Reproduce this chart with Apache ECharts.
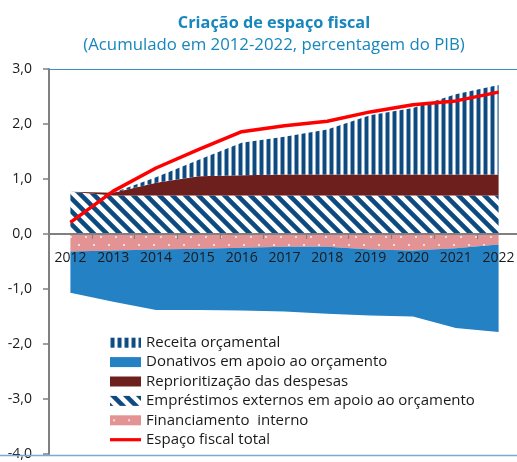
<!DOCTYPE html>
<html>
<head>
<meta charset="utf-8">
<script src="https://cdn.jsdelivr.net/npm/echarts@6/dist/echarts.min.js"></script>
<style>html,body{margin:0;padding:0;background:#fff;}#c{width:517px;height:462px;}</style>
</head>
<body>
<div id="c"></div>
<script>
// ---- Data ----
const years = ['2012','2013','2014','2015','2016','2017','2018','2019','2020','2021','2022'];
const receita = [0, 0, 0.10, 0.30, 0.59, 0.69, 0.82, 1.08, 1.21, 1.46, 1.63];
const donativos = [-0.75, -0.93, -1.10, -1.11, -1.14, -1.18, -1.22, -1.20, -1.20, -1.45, -1.59];
const reprioritizacao = [0, 0.05, 0.23, 0.35, 0.37, 0.38, 0.38, 0.38, 0.38, 0.38, 0.38];
const emprestimos = [0.77, 0.70, 0.70, 0.70, 0.70, 0.70, 0.70, 0.70, 0.70, 0.70, 0.70];
const financiamento = [-0.32, -0.30, -0.28, -0.27, -0.25, -0.23, -0.23, -0.28, -0.30, -0.26, -0.19];
const espacoTotal = [0.21, 0.78, 1.20, 1.54, 1.86, 1.97, 2.05, 2.22, 2.35, 2.42, 2.58];
const seriesNames = ['Receita orçamental','Donativos em apoio ao orçamento','Reprioritização das despesas','Empréstimos externos em apoio ao orçamento','Financiamento  interno','Espaço fiscal total'];
const titleText = 'Criação de espaço fiscal';
const subtitleText = '(Acumulado em 2012-2022, percentagem do PIB)';
const yMin = -4, yMax = 3;

// ---- Patterns ----
function makeCanvas(w, h, fn) { const c = document.createElement('canvas'); c.width = w; c.height = h; fn(c.getContext('2d'), w, h); return c; }
function hex(h){return [parseInt(h.substr(1,2),16),parseInt(h.substr(3,2),16),parseInt(h.substr(5,2),16)];}
const stripeCanvas = makeCanvas(7, 7, (ctx) => {
  ctx.fillStyle = '#ffffff'; ctx.fillRect(0, 0, 7, 7);
  ctx.fillStyle = '#8aa8c8'; ctx.fillRect(0, 0, 1, 7); ctx.fillRect(4, 0, 1, 7);
  ctx.fillStyle = '#0f4a7e'; ctx.fillRect(1, 0, 3, 7);
});
const hatchCanvas = makeCanvas(13, 13, (ctx, w, h) => {
  const img = ctx.createImageData(w, h); const dk = hex('#0c4a7f');
  for (let y = 0; y < h; y++) for (let x = 0; x < w; x++) {
    let cov = 0;
    for (let sy = 0; sy < 4; sy++) for (let sx = 0; sx < 4; sx++) {
      const px = x + (sx + 0.5) / 4, py = y + (sy + 0.5) / 4;
      const d = (((px - py) % 13) + 13) % 13; if (d < 6.5) cov++;
    }
    cov /= 16; const i = (y * w + x) * 4;
    for (let k = 0; k < 3; k++) img.data[i + k] = Math.round(255 * (1 - cov) + dk[k] * cov);
    img.data[i + 3] = 255;
  }
  ctx.putImageData(img, 0, 0);
});
const dotCanvas = makeCanvas(15, 16, (ctx) => {
  ctx.fillStyle = '#e39393'; ctx.fillRect(0, 0, 15, 16);
  ctx.fillStyle = '#f7dede'; ctx.fillRect(3, 4, 2, 2); ctx.fillRect(10, 12, 2, 2);
});
const pStripe = { image: stripeCanvas, repeat: 'repeat' };
const pHatch = { image: hatchCanvas, repeat: 'repeat' };
const pDots = { image: dotCanvas, repeat: 'repeat' };
const cBlue = '#2381c4', cRed = '#6d1f1e', cLine = '#ff0000';

const FONT = 'Open Sans';
const GRID_H = 385;
// x axis sits at value 0: shift it up from the grid bottom by the zero's distance
const zeroOffset = -GRID_H * (0 - yMin) / (yMax - yMin);
function area(name, data, stack, fill) {
  return { name, type: 'line', stack, data, symbol: 'none', showSymbol: false,
    lineStyle: { width: 0 }, areaStyle: { color: fill, opacity: 1 }, itemStyle: { color: fill },
    emphasis: { disabled: true }, silent: true };
}

const chart = echarts.init(document.getElementById('c'), null, { renderer: 'canvas' });
chart.setOption({
  animation: false,
  backgroundColor: '#ffffff',
  title: [
    { text: titleText, left: 269, top: 10, textAlign: 'center', textStyle: { fontFamily: FONT, fontSize: 16.3, fontWeight: 'bold', color: '#1786bd' } },
    { text: subtitleText, left: 269, top: 32, textAlign: 'center', textStyle: { fontFamily: FONT, fontSize: 16.8, fontWeight: 'normal', color: '#1786bd' } }
  ],
  grid: { left: 49, top: 69, width: 471, height: GRID_H, containLabel: false, outerBoundsMode: 'none' },
  xAxis: {
    type: 'category', data: years, boundaryGap: true, z: 10, position: 'bottom', offset: zeroOffset,
    axisLine: { onZero: false, lineStyle: { color: '#808080', width: 2 } },
    axisTick: { show: true, length: 5, lineStyle: { color: '#808080', width: 1.2 } },
    axisLabel: { fontFamily: FONT, fontSize: 14, color: '#1a1a1a', margin: 17, interval: 0 },
    splitLine: { show: false }
  },
  yAxis: {
    type: 'value', min: yMin, max: yMax, interval: 1, z: 10,
    axisLine: { show: true, lineStyle: { color: '#808080', width: 2 } },
    axisTick: { show: true, length: 6, lineStyle: { color: '#808080', width: 1.5 } },
    axisLabel: { fontFamily: FONT, fontSize: 14, color: '#1a1a1a', margin: 17, formatter: v => v.toFixed(1).replace('.', ',') },
    splitLine: { show: false }
  },
  legend: {
    orient: 'vertical', left: 105, top: 328, itemWidth: 31, itemHeight: 10, itemGap: 0,
    textStyle: { fontFamily: FONT, fontSize: 15, color: '#1a1a1a', lineHeight: 19.4 },
    selectedMode: false,
    data: [
      { name: seriesNames[0], icon: 'rect', itemStyle: { color: pStripe } },
      { name: seriesNames[1], icon: 'rect', itemStyle: { color: cBlue } },
      { name: seriesNames[2], icon: 'rect', itemStyle: { color: cRed } },
      { name: seriesNames[3], icon: 'rect', itemStyle: { color: pHatch } },
      { name: seriesNames[4], icon: 'rect', itemStyle: { color: pDots } },
      { name: seriesNames[5], icon: 'path://M0,0h31v3.2h-31z', itemStyle: { color: cLine } }
    ]
  },
  graphic: [
    { type: 'line', shape: { x1: 49, y1: 69.5, x2: 517, y2: 69.5 }, style: { stroke: '#3c8dc8', lineWidth: 1 }, z: 100 },
    { type: 'line', shape: { x1: 0, y1: 455.5, x2: 517, y2: 455.5 }, style: { stroke: '#7fa9d3', lineWidth: 1.5 }, z: 100 }
  ],
  series: [
    area(seriesNames[3], emprestimos, 'pos', pHatch),
    area(seriesNames[2], reprioritizacao, 'pos', cRed),
    area(seriesNames[0], receita, 'pos', pStripe),
    area(seriesNames[4], financiamento, 'neg', pDots),
    area(seriesNames[1], donativos, 'neg', cBlue),
    { name: seriesNames[5], type: 'line', data: espacoTotal, symbol: 'none', showSymbol: false,
      lineStyle: { color: cLine, width: 3.5 }, itemStyle: { color: cLine }, emphasis: { disabled: true }, z: 5,
      markLine: { silent: true, symbol: ['none', 'none'], label: { show: false },
        lineStyle: { color: '#808080', width: 2, type: 'solid' }, emphasis: { disabled: true },
        data: [{ yAxis: 0 }] } }
  ]
});
</script>
</body>
</html>
